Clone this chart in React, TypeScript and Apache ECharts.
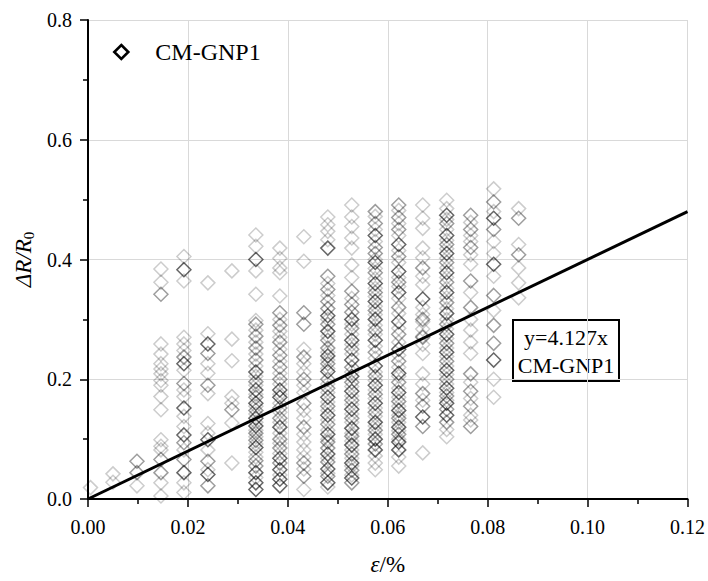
import React, { useEffect, useRef } from "react";
import * as echarts from "echarts";

const FONT = "'Liberation Serif', 'Times New Roman', serif";

const xTicks = [0, 0.02, 0.04, 0.06, 0.08, 0.1, 0.12];
const yTicks = [0, 0.2, 0.4, 0.6, 0.8];

const columnX = [0.0005, 0.005, 0.0098, 0.0146, 0.0192, 0.024, 0.0288, 0.0336, 0.0384, 0.0432, 0.048, 0.0528, 0.0575, 0.0622, 0.067, 0.0718, 0.0766, 0.0812, 0.0862];

const darkY: number[][] = [
  [], [], [], [],
  [0.383, 0.226, 0.152, 0.107, 0.044],
  [0.259, 0.099, 0.041],
  [],
  [0.4, 0.212, 0.182, 0.16, 0.135, 0.122, 0.086, 0.044, 0.027, 0.016],
  [0.182, 0.17, 0.12, 0.068, 0.049, 0.033, 0.022],
  [],
  [0.419, 0.306, 0.28, 0.239, 0.213, 0.17, 0.14, 0.108, 0.075, 0.05, 0.027],
  [0.3, 0.265, 0.232, 0.205, 0.18, 0.15, 0.118, 0.09, 0.06, 0.035],
  [0.44, 0.395, 0.36, 0.33, 0.3, 0.265, 0.222, 0.19, 0.16, 0.128, 0.1, 0.082],
  [0.425, 0.38, 0.345, 0.296, 0.25, 0.21, 0.178, 0.148, 0.12, 0.095, 0.082],
  [0.334, 0.137],
  [0.474, 0.44, 0.41, 0.378, 0.345, 0.31, 0.275, 0.245, 0.215, 0.185, 0.16, 0.14],
  [],
  [0.469, 0.392, 0.232],
  [],
];

const midY: number[][] = [
  [], [],
  [0.063, 0.044],
  [0.342, 0.066, 0.044],
  [0.237, 0.193, 0.094, 0.066],
  [0.243, 0.19, 0.063, 0.022],
  [0.149],
  [0.292, 0.272, 0.252, 0.232, 0.196, 0.17, 0.148, 0.11, 0.098, 0.064, 0.055],
  [0.311, 0.29, 0.262, 0.24, 0.22, 0.2, 0.152, 0.135, 0.1, 0.085, 0.06],
  [0.311, 0.292, 0.237, 0.2, 0.16, 0.12, 0.06, 0.038],
  [0.372, 0.35, 0.33, 0.318, 0.292, 0.265, 0.252, 0.226, 0.2, 0.185, 0.155, 0.125, 0.095, 0.085, 0.062, 0.038],
  [0.347, 0.325, 0.312, 0.285, 0.25, 0.22, 0.195, 0.165, 0.135, 0.105, 0.075, 0.048, 0.027],
  [0.48, 0.46, 0.42, 0.41, 0.378, 0.345, 0.315, 0.282, 0.245, 0.205, 0.175, 0.145, 0.115, 0.092],
  [0.491, 0.47, 0.45, 0.405, 0.362, 0.32, 0.275, 0.23, 0.195, 0.163, 0.135, 0.108],
  [0.386, 0.3, 0.27, 0.176, 0.155, 0.121],
  [0.46, 0.425, 0.395, 0.362, 0.328, 0.292, 0.26, 0.23, 0.2, 0.172, 0.15, 0.128],
  [0.474, 0.45, 0.42, 0.364, 0.32, 0.209, 0.18, 0.155, 0.121],
  [0.496, 0.45, 0.34, 0.29, 0.26],
  [0.469, 0.408],
];

const lightY: number[][] = [
  [0.019],
  [0.042, 0.028],
  [0.022],
  [0.384, 0.362, 0.259, 0.242, 0.226, 0.217, 0.209, 0.198, 0.19, 0.171, 0.149, 0.099, 0.088, 0.082, 0.027, 0.005],
  [0.405, 0.364, 0.27, 0.259, 0.248, 0.215, 0.182, 0.171, 0.138, 0.121, 0.082, 0.027, 0.011],
  [0.361, 0.276, 0.226, 0.21, 0.176, 0.126, 0.11, 0.082, 0.049],
  [0.381, 0.267, 0.231, 0.171, 0.16, 0.127, 0.06],
  [0.441, 0.422, 0.381, 0.342, 0.298, 0.282, 0.262, 0.242, 0.222, 0.205, 0.19, 0.175, 0.155, 0.142, 0.128, 0.115, 0.104, 0.092, 0.078, 0.07, 0.036],
  [0.419, 0.402, 0.386, 0.378, 0.339, 0.3, 0.28, 0.27, 0.25, 0.23, 0.21, 0.192, 0.175, 0.16, 0.145, 0.128, 0.11, 0.093, 0.076, 0.04],
  [0.438, 0.397, 0.25, 0.226, 0.212, 0.19, 0.178, 0.148, 0.135, 0.108, 0.095, 0.082, 0.07, 0.05, 0.016],
  [0.471, 0.458, 0.447, 0.433, 0.36, 0.34, 0.3, 0.272, 0.245, 0.232, 0.218, 0.192, 0.178, 0.162, 0.148, 0.132, 0.115, 0.1, 0.068, 0.043, 0.02],
  [0.491, 0.471, 0.455, 0.436, 0.419, 0.391, 0.37, 0.335, 0.292, 0.275, 0.258, 0.242, 0.212, 0.188, 0.172, 0.158, 0.142, 0.128, 0.11, 0.097, 0.082, 0.068, 0.055, 0.04],
  [0.472, 0.45, 0.43, 0.4, 0.385, 0.368, 0.352, 0.338, 0.322, 0.308, 0.29, 0.275, 0.255, 0.235, 0.212, 0.198, 0.182, 0.168, 0.152, 0.138, 0.122, 0.108, 0.072, 0.06, 0.049],
  [0.482, 0.46, 0.44, 0.415, 0.395, 0.37, 0.355, 0.335, 0.31, 0.285, 0.262, 0.24, 0.22, 0.205, 0.185, 0.17, 0.155, 0.14, 0.128, 0.114, 0.1, 0.07, 0.055],
  [0.491, 0.469, 0.452, 0.419, 0.403, 0.372, 0.358, 0.32, 0.308, 0.296, 0.284, 0.272, 0.258, 0.243, 0.209, 0.192, 0.165, 0.077],
  [0.499, 0.485, 0.467, 0.45, 0.432, 0.418, 0.402, 0.386, 0.37, 0.352, 0.336, 0.318, 0.3, 0.284, 0.268, 0.252, 0.238, 0.222, 0.208, 0.192, 0.178, 0.165, 0.116, 0.104],
  [0.462, 0.44, 0.43, 0.408, 0.392, 0.345, 0.3, 0.282, 0.262, 0.243, 0.195, 0.168, 0.14, 0.132],
  [0.518, 0.48, 0.43, 0.41, 0.372, 0.315, 0.2, 0.17],
  [0.485, 0.425, 0.386, 0.361, 0.336],
];

const fitLineX = [0, 0.12];
const fitLineY = [0, 0.48];

const seriesName = "CM-GNP1";
const fitLabel = ["y=4.127x", "CM-GNP1"];

function toPoints(cols: number[][]) {
  const out: number[][] = [];
  cols.forEach((ys, i) => ys.forEach((y) => out.push([columnX[i], y])));
  return out;
}

function scatterSeries(name: string, data: number[][], alpha: number) {
  return {
    name,
    type: "scatter",
    data,
    symbol: "diamond",
    symbolSize: 14,
    itemStyle: {
      color: "rgba(0,0,0,0)",
      borderColor: `rgba(0,0,0,${alpha})`,
      borderWidth: 1.5,
    },
    z: 2,
  };
}

export default function App() {
  const ref = useRef<HTMLDivElement>(null);
  useEffect(() => {
    if (!ref.current) return;
    const chart = echarts.init(ref.current, null, { renderer: "svg" });
    chart.setOption({
      animation: false,
      backgroundColor: "#fff",
      grid: { left: 88, right: 18, top: 20, bottom: 78 },
      legend: {
        data: [
          {
            name: seriesName,
            icon: "diamond",
            itemStyle: { color: "rgba(0,0,0,0)", borderColor: "#000", borderWidth: 2.6, opacity: 1 },
          },
        ],
        left: 108,
        top: 35,
        itemWidth: 14,
        itemHeight: 14,
        textStyle: { fontFamily: FONT, fontSize: 24, color: "#000", padding: [0, 0, 0, 22] },
      },
      xAxis: {
        type: "value",
        min: 0,
        max: 0.12,
        interval: 0.02,
        name: "{i|ε}{n|/%}",
        nameLocation: "middle",
        nameGap: 54,
        nameTextStyle: {
          rich: {
            i: { fontFamily: FONT, fontSize: 23, fontStyle: "italic", color: "#000" },
            n: { fontFamily: FONT, fontSize: 23, color: "#000" },
          },
        },
        axisLine: { show: true, onZero: false, lineStyle: { color: "#000", width: 2 } },
        axisTick: { show: true, inside: false, length: 8, lineStyle: { color: "#000", width: 1.5 } },
        minorTick: { show: true, splitNumber: 2, length: 5, lineStyle: { color: "#000", width: 1.5 } },
        axisLabel: {
          margin: 18,
          fontFamily: FONT,
          fontSize: 20,
          color: "#000",
          formatter: (v: number) => (xTicks.some((t) => Math.abs(t - v) < 1e-9) ? v.toFixed(2) : ""),
        },
        splitLine: { show: true, lineStyle: { color: "#d9d9d9", width: 1 } },
      },
      yAxis: {
        type: "value",
        min: 0,
        max: 0.8,
        interval: 0.2,
        name: "{i|ΔR/R}{s|0}",
        nameLocation: "middle",
        nameGap: 46,
        nameTextStyle: {
          rich: {
            i: { fontFamily: FONT, fontSize: 23, fontStyle: "italic", color: "#000" },
            s: { fontFamily: FONT, fontSize: 15, color: "#000", padding: [10, 0, 0, 0] },
          },
        },
        axisLine: { show: true, onZero: false, lineStyle: { color: "#000", width: 2 } },
        axisTick: { show: true, inside: false, length: 8, lineStyle: { color: "#000", width: 1.5 } },
        minorTick: { show: true, splitNumber: 2, length: 5, lineStyle: { color: "#000", width: 1.5 } },
        axisLabel: {
          margin: 16,
          fontFamily: FONT,
          fontSize: 20,
          color: "#000",
          formatter: (v: number) => (yTicks.some((t) => Math.abs(t - v) < 1e-9) ? v.toFixed(1) : ""),
        },
        splitLine: { show: true, lineStyle: { color: "#d9d9d9", width: 1 } },
      },
      series: [
        scatterSeries("light", toPoints(lightY), 0.25),
        scatterSeries("mid", toPoints(midY), 0.48),
        scatterSeries(seriesName, toPoints(darkY), 0.75),
        {
          name: "fit",
          type: "line",
          data: fitLineX.map((x, i) => [x, fitLineY[i]]),
          showSymbol: false,
          symbol: "none",
          lineStyle: { color: "#000", width: 3 },
          z: 5,
        },
      ],
      graphic: [
        {
          type: "group",
          left: 512,
          top: 319,
          z: 10,
          children: [
            {
              type: "rect",
              shape: { x: 0, y: 0, width: 106, height: 61 },
              style: { fill: "#fff", stroke: "#000", lineWidth: 2 },
            },
            {
              type: "text",
              x: 53,
              y: 17,
              style: { text: fitLabel[0], fontFamily: FONT, fontSize: 22, fill: "#000", align: "center", verticalAlign: "middle" },
            },
            {
              type: "text",
              x: 53,
              y: 45,
              style: { text: fitLabel[1], fontFamily: FONT, fontSize: 22, fill: "#000", align: "center", verticalAlign: "middle" },
            },
          ],
        },
      ],
    });
    return () => chart.dispose();
  }, []);
  return <div ref={ref} style={{ width: 708, height: 581, position: "absolute", left: 0, top: 0 }} />;
}
